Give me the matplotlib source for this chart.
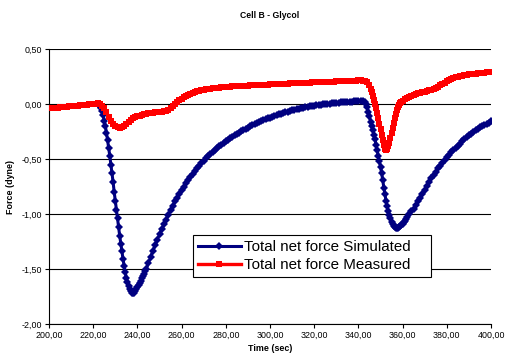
import numpy as np
import matplotlib
matplotlib.use("Agg")
import matplotlib.pyplot as plt
from matplotlib.ticker import FuncFormatter, MultipleLocator

plt.rcParams["font.family"] = ["Liberation Sans", "DejaVu Sans"]

# time axis of the simulated series (finer sampling on the steep parts)
sim_time = np.concatenate([np.arange(222, 244, 0.5), np.arange(244, 343, 1.0),
                           np.arange(343, 362, 0.5), np.arange(362, 401, 1.0)])
sim_force = [
    0.00, -0.01, -0.02, -0.04, -0.06, -0.10, -0.15, -0.20, -0.26, -0.33,
    -0.40, -0.47, -0.55, -0.63, -0.71, -0.80, -0.88, -0.96, -1.04, -1.12,
    -1.20, -1.27, -1.34, -1.41, -1.47, -1.53, -1.58, -1.62, -1.65, -1.68,
    -1.70, -1.715, -1.72, -1.715, -1.70, -1.685, -1.665, -1.645, -1.625, -1.605,
    -1.585, -1.565, -1.545, -1.52,
    # 244 .. 342
    -1.50, -1.445, -1.39, -1.335, -1.285, -1.235, -1.185, -1.14, -1.095, -1.05,
    -1.005, -0.965, -0.925, -0.885, -0.85, -0.815, -0.78, -0.75, -0.72, -0.69,
    -0.66, -0.635, -0.61, -0.585, -0.56, -0.535, -0.515, -0.495, -0.475, -0.455,
    -0.435, -0.415, -0.40, -0.385, -0.37, -0.355, -0.34, -0.326, -0.312, -0.299,
    -0.286, -0.273, -0.261, -0.249, -0.237, -0.226, -0.215, -0.204, -0.194, -0.184,
    -0.174, -0.165, -0.156, -0.147, -0.139, -0.131, -0.123, -0.115, -0.108, -0.101,
    -0.094, -0.087, -0.081, -0.075, -0.069, -0.063, -0.058, -0.053, -0.048, -0.043,
    -0.038, -0.034, -0.030, -0.026, -0.022, -0.018, -0.015, -0.012, -0.009, -0.006,
    -0.003, 0.0, 0.002, 0.004, 0.006, 0.008, 0.010, 0.012, 0.014, 0.016,
    0.018, 0.019, 0.021, 0.022, 0.023, 0.024, 0.025, 0.026, 0.025,
    # 343 .. 361.5
    0.015, 0.0, -0.03, -0.07, -0.11, -0.16, -0.20, -0.24, -0.28, -0.32,
    -0.37, -0.42, -0.47, -0.52, -0.57, -0.63, -0.69, -0.76, -0.82, -0.88,
    -0.93, -0.97, -1.01, -1.04, -1.07, -1.09, -1.11, -1.12, -1.13, -1.13,
    -1.128, -1.12, -1.11, -1.10, -1.09, -1.075, -1.06, -1.045,
    # 362 .. 400
    -1.03, -1.00, -0.975, -0.95, -0.92, -0.885, -0.85, -0.815, -0.78, -0.745,
    -0.71, -0.675, -0.645, -0.615, -0.585, -0.56, -0.535, -0.51, -0.485, -0.46,
    -0.44, -0.42, -0.40, -0.38, -0.36, -0.34, -0.32, -0.30, -0.285, -0.27,
    -0.255, -0.24, -0.225, -0.21, -0.20, -0.19, -0.18, -0.17, -0.155,
]

meas_time = np.concatenate([np.arange(200, 345, 1.0), np.arange(345, 360, 0.5),
                            np.arange(360, 401, 1.0)])
meas_force = [
    -0.040, -0.038, -0.036, -0.034, -0.032, -0.030, -0.028, -0.026, -0.024, -0.022,
    -0.020, -0.018, -0.016, -0.014, -0.012, -0.010, -0.008, -0.006, -0.004, -0.002,
    0.000, 0.003, 0.005, 0.000, -0.015, -0.040, -0.075, -0.115, -0.150, -0.180,
    -0.200, -0.210, -0.215, -0.212, -0.200, -0.180, -0.160, -0.145, -0.130, -0.120,
    -0.112, -0.105, -0.099, -0.094, -0.090, -0.086, -0.083, -0.080, -0.077, -0.075,
    -0.072, -0.069, -0.065, -0.060, -0.050, -0.035, -0.018, 0.000, 0.018, 0.035,
    0.050, 0.063, 0.075, 0.085, 0.094, 0.102, 0.109, 0.115, 0.120, 0.125,
    0.129, 0.133, 0.136, 0.139, 0.142, 0.145, 0.147, 0.149, 0.151, 0.153,
    0.155, 0.157, 0.158, 0.160, 0.161, 0.163, 0.164, 0.165, 0.166, 0.167,
    0.168, 0.169, 0.170, 0.171, 0.172, 0.173, 0.174, 0.175, 0.176, 0.177,
    0.178, 0.179, 0.180, 0.181, 0.182, 0.183, 0.184, 0.185, 0.186, 0.187,
    0.188, 0.189, 0.190, 0.191, 0.191, 0.192, 0.193, 0.194, 0.195, 0.196,
    0.197, 0.198, 0.199, 0.200, 0.200, 0.201, 0.202, 0.203, 0.204, 0.204,
    0.205, 0.206, 0.207, 0.208, 0.208, 0.209, 0.210, 0.211, 0.212, 0.213,
    0.214, 0.214, 0.213, 0.210, 0.200,
    # 345 .. 359.5
    0.17, 0.14, 0.11, 0.075, 0.04, 0.0, -0.04, -0.085, -0.13, -0.18,
    -0.23, -0.28, -0.33, -0.375, -0.41, -0.42, -0.41, -0.385, -0.35, -0.31,
    -0.265, -0.22, -0.175, -0.13, -0.09, -0.055, -0.03, -0.01, 0.005, 0.018,
    # 360 .. 400
    0.030, 0.045, 0.057, 0.067, 0.076, 0.084, 0.091, 0.097, 0.103, 0.108,
    0.113, 0.118, 0.123, 0.129, 0.136, 0.145, 0.156, 0.169, 0.182, 0.195,
    0.207, 0.218, 0.227, 0.235, 0.242, 0.248, 0.253, 0.258, 0.262, 0.266,
    0.269, 0.272, 0.275, 0.277, 0.279, 0.281, 0.283, 0.285, 0.287, 0.289, 0.291,
]

fig = plt.figure(figsize=(5.05, 3.58), dpi=100)
ax = fig.add_axes([49 / 505, 1 - 324 / 358, 442 / 505, 275 / 358])

ax.plot(sim_time, sim_force, color="#000080", lw=2.2, marker="D", ms=4.0,
        mew=0, label="Total net force Simulated", zorder=3)
ax.plot(meas_time, meas_force, color="#FF0000", lw=2.4, marker="s", ms=4.4,
        mew=0, label="Total net force Measured", zorder=4)

ax.set_xlim(200, 400)
ax.set_ylim(-2.0, 0.5)
ax.xaxis.set_major_locator(MultipleLocator(20))
ax.yaxis.set_major_locator(MultipleLocator(0.5))
comma = FuncFormatter(lambda v, p: f"{v:.2f}".replace(".", ","))
ax.xaxis.set_major_formatter(comma)
ax.yaxis.set_major_formatter(comma)
ax.tick_params(labelsize=6.4, length=3, width=0.8, direction="out", pad=2)
ax.grid(axis="y", color="black", lw=0.8)
ax.set_axisbelow(True)
for s in ["top", "right"]:
    ax.spines[s].set_visible(False)
for s in ["left", "bottom"]:
    ax.spines[s].set_linewidth(0.8)

fig.text(270 / 505, 1 - 15 / 358, "Cell B - Glycol", ha="center", va="center",
         fontsize=6.2, fontweight="bold")
ax.set_xlabel("Time (sec)", fontsize=6.4, fontweight="bold", labelpad=3)
ax.set_ylabel("Force (dyne)", fontsize=6.4, fontweight="bold", labelpad=5)

leg = ax.legend(loc="lower left", bbox_to_anchor=(144 / 442, 47 / 275, 238 / 442, 48 / 275),
                mode="expand", fontsize=10.9, frameon=True, fancybox=False,
                edgecolor="black", framealpha=1, borderpad=0.3, labelspacing=0.3,
                handlelength=2.85, handletextpad=0.2, borderaxespad=0)
leg.get_frame().set_linewidth(0.8)

fig.savefig("out.png", dpi=100)
